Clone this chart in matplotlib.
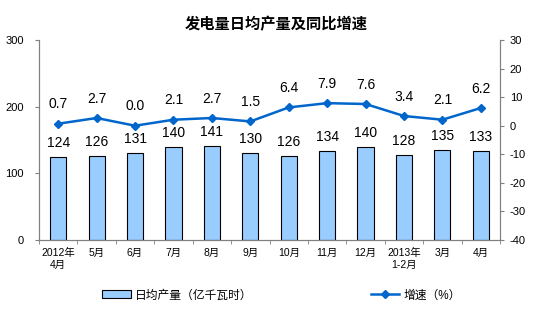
import matplotlib.pyplot as plt
import numpy as np

plt.rcParams['font.family'] = ['Liberation Sans', 'Noto Sans CJK SC']
plt.rcParams['axes.unicode_minus'] = False

months = ['2012年\n4月', '5月', '6月', '7月', '8月', '9月', '10月', '11月', '12月',
          '2013年\n1-2月', '3月', '4月']
daily_output = [124, 126, 131, 140, 141, 130, 126, 134, 140, 128, 135, 133]
growth = [0.7, 2.7, 0.0, 2.1, 2.7, 1.5, 6.4, 7.9, 7.6, 3.4, 2.1, 6.2]

fig = plt.figure(figsize=(5.58, 3.3), dpi=100)
ax = fig.add_axes([0.0699, 0.2727, 0.8262, 0.6061])
x = np.arange(len(months))

bars = ax.bar(x, daily_output, width=0.42, color='#99CCFF', edgecolor='black',
              linewidth=0.8, label='日均产量（亿千瓦时）', zorder=2)
for xi, v in zip(x, daily_output):
    ax.annotate(str(v), (xi, v), xytext=(0, 5), textcoords='offset points',
                ha='center', va='bottom', fontsize=10)

ax.set_xlim(-0.5, len(months) - 0.5)
ax.set_ylim(0, 300)
ax.set_yticks([0, 100, 200, 300])
ax.set_xticks(x)
ax.set_xticklabels(months, fontsize=7.5)
ax.set_xticks(np.arange(-0.5, len(months), 1), minor=True)
ax.tick_params(axis='x', which='major', length=0, pad=6)
ax.tick_params(axis='x', which='minor', length=3, color='#808080')
ax.tick_params(axis='y', labelsize=8, length=3, color='#808080', pad=8)
ax.spines['top'].set_visible(False)
for s in ['left', 'right', 'bottom']:
    ax.spines[s].set_color('#808080')

ax2 = ax.twinx()
line, = ax2.plot(x, growth, color='#0066CC', linewidth=1.8, marker='D',
                 markersize=4.5, label='增速（%）', zorder=3)
for xi, v in zip(x, growth):
    ax2.annotate(f'{v:.1f}', (xi, v), xytext=(0, 9), textcoords='offset points',
                 ha='center', va='bottom', fontsize=10)
ax2.set_ylim(-40, 30)
ax2.set_yticks(range(-40, 31, 10))
ax2.tick_params(axis='y', labelsize=8, length=3, color='#808080', pad=4)
ax2.spines['top'].set_visible(False)
for s in ['left', 'right', 'bottom']:
    ax2.spines[s].set_color('#808080')

fig.suptitle('发电量日均产量及同比增速', x=0.495, y=0.95, fontsize=11,
             fontweight='bold', family=['Noto Sans CJK SC'])

fig.legend([bars, line], ['日均产量（亿千瓦时）', '增速（%）'], loc='center',
           bbox_to_anchor=(0.505, 0.105), ncol=2, frameon=False, fontsize=8.5,
           columnspacing=10, handlelength=2.4, handletextpad=0.4)

fig.savefig('out.png', dpi=100)
